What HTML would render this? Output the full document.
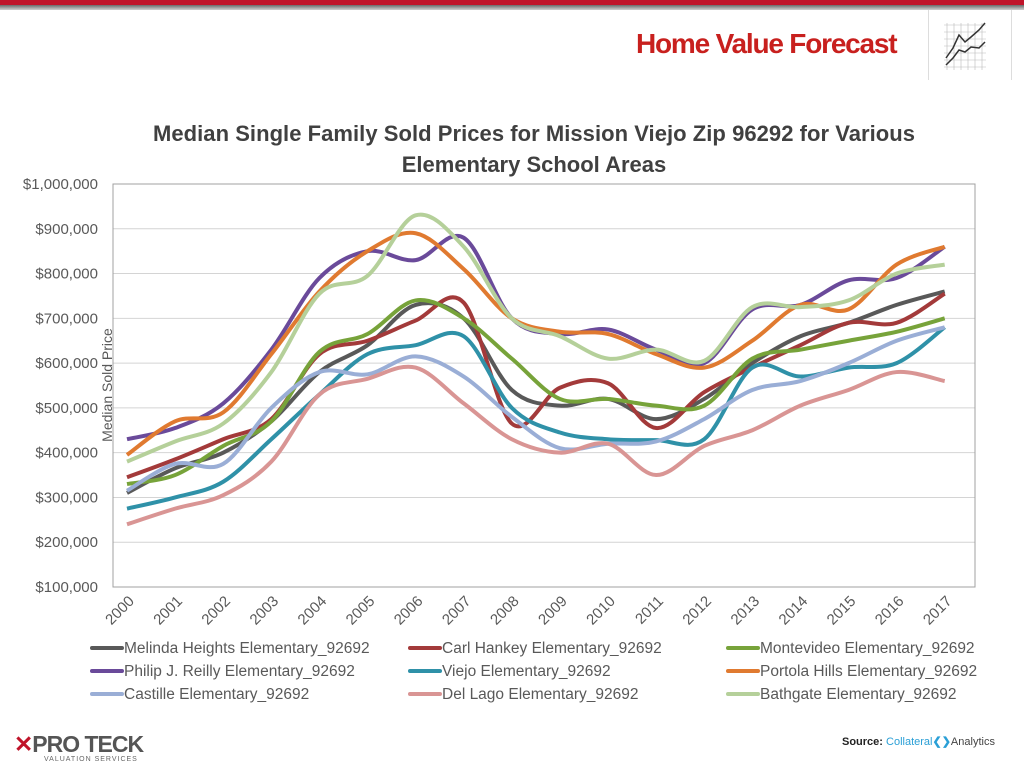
<!DOCTYPE html>
<html><head><meta charset="utf-8"><style>
body{margin:0;width:1024px;height:768px;background:#fff;overflow:hidden;font-family:"Liberation Sans",sans-serif;position:relative}
.bar{position:absolute;left:0;top:0;width:1024px;height:5px;background:#c0142a}
.bar2{position:absolute;left:0;top:5px;width:1024px;height:5px;background:linear-gradient(#6a6a6a,#d0d0d0)}
.hv{position:absolute;left:636px;top:28px;font-size:28px;font-weight:bold;color:#c8201e;letter-spacing:-1.2px}
.ib{position:absolute;left:928px;top:10px;width:82px;height:70px;border-left:1px solid #ddd;border-right:1px solid #ddd}
</style></head><body>
<div class="bar"></div><div class="bar2"></div>
<div class="hv">Home Value Forecast</div>
<div class="ib"><svg width="82" height="70"><g stroke="#bbb" stroke-width="0.6">
<path d="M15 15H57M15 22H57M15 29H57M15 36H57M15 43H57M15 50H57M15 57H57M18 13V60M25 13V60M32 13V60M39 13V60M46 13V60M53 13V60"/></g>
<path d="M17 48L24 38L30 25L36 32L42 27L50 20L56 13" fill="none" stroke="#333" stroke-width="1.5"/>
<path d="M17 55L24 48L30 40L36 42L42 37L50 38L56 32" fill="none" stroke="#333" stroke-width="1.5"/></svg></div>
<svg id="c" width="1024" height="768" style="position:absolute;left:0;top:0" font-family="Liberation Sans, sans-serif"></svg>
<div style="position:absolute;left:14px;top:731px;font-size:23px;font-weight:bold;color:#555;letter-spacing:-1px"><span style="color:#c0142a">✕</span>PRO TECK</div>
<div style="position:absolute;left:44px;top:756px;font-size:7px;color:#666;letter-spacing:1px">VALUATION SERVICES</div>
<div style="position:absolute;left:842px;top:735px;font-size:11px;font-weight:bold;color:#222">Source: <span style="color:#2a9fd6;font-weight:normal">Collateral</span><span style="color:#2a9fd6">❮❯</span><span style="color:#444;font-weight:normal">Analytics</span></div>
<script>
var s=document.getElementById('c'),h='';
var L=113,R=975,T=184,B=587,x0=127,dx=48.1;
function Y(v){return B-(v-100)*(B-T)/900}
function X(i){return x0+i*dx}
h+='<text x="534" y="141" text-anchor="middle" font-size="22" font-weight="bold" fill="#404040" textLength="762">Median Single Family Sold Prices for Mission Viejo Zip 96292 for Various</text>';
h+='<text x="534" y="172" text-anchor="middle" font-size="22" font-weight="bold" fill="#404040">Elementary School Areas</text>';
for(var v=100;v<=1000;v+=100){var y=Y(v);h+='<line x1="'+L+'" x2="'+R+'" y1="'+y+'" y2="'+y+'" stroke="#d4d4d4"/>';
h+='<text x="98" y="'+(y+5)+'" text-anchor="end" font-size="15" fill="#595959">$'+(v==1000?'1,000,000':v+',000')+'</text>';}
h+='<rect x="'+L+'" y="'+T+'" width="'+(R-L)+'" height="'+(B-T)+'" fill="none" stroke="#a0a0a0"/>';
h+='<text transform="translate(112,385) rotate(-90)" text-anchor="middle" font-size="14" fill="#595959">Median Sold Price</text>';
for(var i=0;i<18;i++){h+='<text transform="translate('+(X(i)+8)+',602) rotate(-45)" text-anchor="end" font-size="15" fill="#595959">'+(2000+i)+'</text>';}
var S=[
['Melinda Heights Elementary_92692','#595959',[310,365,400,470,580,640,730,700,540,505,520,475,520,600,660,690,730,760]],
['Carl Hankey Elementary_92692','#a33a3a',[345,385,430,475,620,650,695,735,465,545,555,455,535,590,640,690,690,755]],
['Montevideo Elementary_92692','#77a33a',[330,350,415,470,625,665,740,700,610,520,520,505,505,610,630,650,670,700]],
['Philip J. Reilly Elementary_92692','#6a4a9a',[430,455,510,630,790,850,830,880,700,665,675,630,600,720,730,785,790,860]],
['Viejo Elementary_92692','#2f91a8',[275,300,335,430,530,620,640,660,500,445,430,428,430,590,570,590,600,680]],
['Portola Hills Elementary_92692','#e07a30',[395,470,490,620,760,850,890,810,700,670,665,620,590,650,730,720,820,860]],
['Castille Elementary_92692','#9aaed6',[315,375,375,500,580,575,615,570,480,410,420,425,475,540,560,600,650,680]],
['Del Lago Elementary_92692','#d99594',[240,275,305,380,530,565,590,510,430,400,420,350,415,450,505,540,580,560]],
['Bathgate Elementary_92692','#b5d09a',[380,425,465,580,755,795,930,860,700,660,610,630,605,725,725,740,800,820]]];
S.forEach(function(q,k){var p=q[2].map(function(v,i){return [X(i),Y(v)]});var d='M'+p[0];
for(var i=0;i<p.length-1;i++){var a=p[Math.max(0,i-1)],b=p[i],c=p[i+1],e=p[Math.min(p.length-1,i+2)];
d+='C'+(b[0]+(c[0]-a[0])/6)+','+(b[1]+(c[1]-a[1])/6)+' '+(c[0]-(e[0]-b[0])/6)+','+(c[1]-(e[1]-b[1])/6)+' '+c[0]+','+c[1];}
h+='<path d="'+d+'" fill="none" stroke="'+q[1]+'" stroke-width="4"/>';
var col=k%3,row=Math.floor(k/3),lx=[92,410,728][col],ly=648+row*23;
h+='<line x1="'+lx+'" x2="'+(lx+30)+'" y1="'+ly+'" y2="'+ly+'" stroke="'+q[1]+'" stroke-width="4" stroke-linecap="round"/>';
h+='<text x="'+(lx+32)+'" y="'+(ly+5)+'" font-size="15.5" fill="#595959">'+q[0]+'</text>';});
s.innerHTML=h;
</script>
</body></html>
